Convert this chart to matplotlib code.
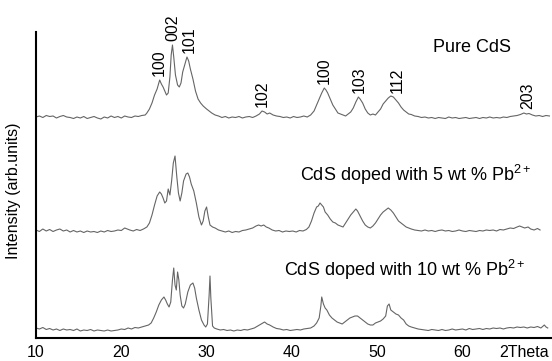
import numpy as np
import matplotlib
matplotlib.use('Agg')
from matplotlib import pyplot as plt

plt.rcParams['font.family'] = ['Liberation Sans', 'DejaVu Sans']
plt.rcParams['mathtext.default'] = 'regular'

# pure CdS (2theta, intensity above its own baseline)
pure_tt = [10.0, 10.4, 10.8, 11.2, 11.6, 12.0, 12.4, 12.8, 13.2, 13.6, 14.0, 14.4, 14.8, 15.2, 15.6, 16.0, 16.4, 16.8,
           17.2, 17.6, 18.0, 18.4, 18.8, 19.2, 19.6, 20.0, 20.4, 20.8, 21.2, 21.6, 22.0, 22.4, 22.8, 23.0, 23.3, 23.6,
           23.9, 24.2, 24.5, 24.7, 24.9, 25.1, 25.3, 25.5, 25.7, 25.85, 26.0, 26.15, 26.35, 26.6, 26.8, 27.0, 27.2,
           27.5, 27.7, 27.9, 28.1, 28.4, 28.7, 29.0, 29.3, 29.6, 30.0, 30.3, 30.6, 31.0, 31.4, 31.8, 32.2, 32.6, 33.0,
           33.4, 33.8, 34.2, 34.6, 35.0, 35.4, 35.8, 36.2, 36.5, 36.8, 37.1, 37.4, 37.8, 38.2, 38.6, 39.0, 39.4, 39.8,
           40.2, 40.6, 41.0, 41.4, 41.8, 42.2, 42.6, 42.9, 43.2, 43.5, 43.8, 44.0, 44.2, 44.5, 44.8, 45.1, 45.4, 45.7,
           46.0, 46.3, 46.6, 46.9, 47.2, 47.5, 47.8, 48.0, 48.3, 48.6, 48.9, 49.2, 49.5, 49.8, 50.1, 50.4, 50.7, 51.0,
           51.3, 51.6, 51.9, 52.2, 52.5, 52.8, 53.1, 53.4, 53.7, 54.0, 54.4, 54.8, 55.2, 55.6, 56.0, 56.4, 56.8, 57.2,
           57.6, 58.0, 58.4, 58.8, 59.2, 59.6, 60.0, 60.4, 60.8, 61.2, 61.6, 62.0, 62.4, 62.8, 63.2, 63.6, 64.0, 64.4,
           64.8, 65.2, 65.6, 66.0, 66.4, 66.8, 67.2, 67.5, 67.8, 68.2, 68.6, 69.0, 69.4, 69.8, 70.2]
pure_int = [0, 1, -0.5, 1.5, 0.5, 1, -1, 0.5, 1.5, 0, -0.5, -1.5, 0, -1, 0.5, -1.5, -0.5, 0.5,
            -1, -2, 0, -1, 1, -0.5, 0.5, -1, 1, 0, -0.5, 1, 0.5, 1.5, 2, 4, 8, 14,
            22, 28, 37, 33, 30, 26, 22, 24, 40, 62, 72, 60, 42, 32, 30, 34, 45,
            54, 60, 56, 48, 38, 26, 18, 14, 11, 8, 6, 4, 2, 1, -0.5, 0.5, -1, 0,
            -0.5, 0.5, -1, 0, 0.5, -0.5, 1, 3, 6, 5, 3, 4, 2, 1, 0.5, -0.5, 0, -1,
            0.5, -0.5, 0, 1, 0, 2, 6, 12, 18, 24, 29, 27, 24, 18, 12, 8, 4, 3,
            2, 1, 3, 5, 9, 15, 20, 18, 14, 8, 4, 2, 3, 2, 5, 8, 13, 16,
            19, 21, 20, 17, 14, 10, 7, 5, 3, 2.5, 1, 0.5, -0.5, 0, -1, -0.5, -1.5, -0.5,
            -1, -1.5, 0, -1, -0.5, -1.5, -1, -0.5, -1.5, -1, -0.5, -1.5, -0.5, -1, 0, -1, -0.5, -1,
            0, -0.5, 0.5, 1, 1.5, 2.5, 4, 3, 3.5, 2, 1, 1.5, 0.5, 1.5, 1]

# CdS doped with 5 wt % Pb
pb5_tt = [10.0, 10.4, 10.8, 11.2, 11.6, 12.0, 12.4, 12.8, 13.2, 13.6, 14.0, 14.4, 14.8, 15.2, 15.6, 16.0, 16.4, 16.8,
          17.2, 17.6, 18.0, 18.4, 18.8, 19.2, 19.6, 20.0, 20.4, 20.7, 21.0, 21.4, 21.8, 22.2, 22.6, 23.0, 23.3, 23.6,
          23.9, 24.2, 24.5, 24.7, 24.9, 25.1, 25.3, 25.5, 25.7, 25.9, 26.1, 26.3, 26.5, 26.7, 26.9, 27.1, 27.3, 27.6,
          27.8, 28.0, 28.2, 28.5, 28.8, 29.1, 29.4, 29.6, 29.8, 30.0, 30.2, 30.4, 30.7, 31.0, 31.4, 31.8, 32.2, 32.6,
          33.0, 33.4, 33.8, 34.2, 34.6, 35.0, 35.4, 35.8, 36.1, 36.4, 36.7, 37.0, 37.3, 37.7, 38.1, 38.5, 38.9, 39.3,
          39.7, 40.1, 40.5, 40.9, 41.3, 41.7, 42.0, 42.3, 42.6, 42.9, 43.1, 43.3, 43.5, 43.7, 43.9, 44.2, 44.5, 44.8,
          45.1, 45.4, 45.7, 46.0, 46.3, 46.6, 46.9, 47.2, 47.5, 47.7, 48.0, 48.3, 48.6, 48.9, 49.2, 49.5, 49.8, 50.1,
          50.4, 50.7, 51.0, 51.3, 51.6, 51.9, 52.2, 52.5, 52.8, 53.1, 53.4, 53.7, 54.0, 54.4, 54.8, 55.2, 55.6, 56.0,
          56.4, 56.8, 57.2, 57.6, 58.0, 58.4, 58.8, 59.2, 59.6, 60.0, 60.4, 60.8, 61.2, 61.6, 62.0, 62.4, 62.8, 63.2,
          63.6, 64.0, 64.4, 64.8, 65.2, 65.6, 66.0, 66.4, 66.7, 67.0, 67.3, 67.7, 68.0, 68.4, 68.8, 69.1]
pb5_int = [1, -0.5, 2, 0, 1.5, -0.5, 1, 2, 0, 1, -1, 0.5, -1, 0, -1.5, 0, -1, -0.5,
           -1.5, 0, -1, 0.5, -0.5, 0, 1, 0.5, 3, 2, 1, 0, 1.5, 0.5, 2, 4, 8, 16,
           26, 35, 39, 37, 33, 28, 30, 42, 36, 50, 68, 75, 55, 38, 30, 38, 50, 57,
           58, 54, 47, 40, 28, 14, 6, 10, 20, 24, 14, 6, 4, 3, 1, 0, -1, 0,
           -1.5, -0.5, -1, 0.5, 1, 2, 3, 5, 6, 5, 6, 4, 3, 1, 0, 0.5, -1, 0,
           -0.5, 0, -1, 0.5, 0, 1.5, 4, 10, 18, 24, 25, 28, 26, 24, 19, 16, 12, 9,
           8, 6, 5, 4, 8, 12, 16, 19, 22, 20, 15, 10, 6, 4, 3, 5, 8, 12,
           16, 19, 21, 23, 21, 18, 14, 10, 8, 6, 4, 3, 2, 1, 0.5, 0, 1, 0,
           0.5, -0.5, 0.5, 1, 0, 0.5, -0.5, 0, 1, 0, -0.5, 0.5, 0, -0.5, 0.5, 0, 1, 0.5,
           1, 0, 1.5, 1, 2, 3, 2.5, 4, 5, 4, 3, 4, 2, 1, 2.5, 1]

# CdS doped with 10 wt % Pb
pb10_tt = [10.0, 10.4, 10.8, 11.2, 11.6, 12.0, 12.4, 12.8, 13.2, 13.6, 14.0, 14.4, 14.8, 15.2, 15.6, 16.0, 16.4, 16.8,
           17.2, 17.6, 18.0, 18.4, 18.8, 19.2, 19.6, 20.0, 20.4, 20.8, 21.2, 21.6, 22.0, 22.4, 22.8, 23.2, 23.5, 23.8,
           24.1, 24.4, 24.7, 25.0, 25.2, 25.4, 25.6, 25.8, 26.0, 26.15, 26.3, 26.45, 26.6, 26.75, 26.9, 27.1, 27.3,
           27.5, 27.8, 28.1, 28.4, 28.6, 28.8, 29.1, 29.4, 29.7, 29.9, 30.1, 30.3, 30.4, 30.5, 30.7, 30.9, 31.2, 31.6,
           32.0, 32.4, 32.8, 33.2, 33.6, 34.0, 34.4, 34.8, 35.2, 35.6, 36.0, 36.4, 36.8, 37.1, 37.4, 37.8, 38.2, 38.6,
           39.0, 39.4, 39.8, 40.2, 40.6, 41.0, 41.4, 41.8, 42.2, 42.6, 42.9, 43.2, 43.4, 43.5, 43.7, 43.9, 44.1, 44.4,
           44.7, 45.0, 45.3, 45.6, 45.9, 46.2, 46.5, 46.8, 47.1, 47.4, 47.7, 48.0, 48.3, 48.6, 48.9, 49.2, 49.5, 49.8,
           50.1, 50.4, 50.7, 51.0, 51.2, 51.4, 51.6, 51.9, 52.2, 52.5, 52.8, 53.1, 53.4, 53.7, 54.0, 54.4, 54.8, 55.2,
           55.6, 56.0, 56.4, 56.8, 57.2, 57.6, 58.0, 58.4, 58.8, 59.2, 59.6, 60.0, 60.4, 60.8, 61.2, 61.6, 62.0, 62.4,
           62.8, 63.2, 63.6, 64.0, 64.4, 64.8, 65.2, 65.6, 66.0, 66.4, 66.8, 67.2, 67.6, 68.0, 68.4, 68.8, 69.2, 69.6,
           69.8, 70.0]
pb10_int = [2, 1, 2.5, 0.5, 1.5, 0, 1, -0.5, 1, 0, 0.5, -0.5, 1, -1, 0, -0.5, 0.5, -1,
            0, -0.5, -1, 0, -1, -0.5, 0, 1, 0.5, 2, 1, 2.5, 2, 3, 4, 5, 7, 12,
            18, 25, 30, 33, 30, 26, 23, 28, 50, 62, 45, 40, 58, 50, 35, 24, 22,
            26, 38, 45, 47, 42, 32, 20, 10, 5, 3, 6, 35, 54, 32, 4, 2, 1, 0,
            0.5, -0.5, 0, -1, 0, -0.5, 0.5, 0, 1, 2, 4, 6, 8, 6, 5, 3, 1.5, 1,
            0, 0.5, -0.5, 0, 0.5, 0, 1, 1.5, 2, 4, 7, 12, 24, 33, 26, 22, 20, 15,
            12, 10, 8, 7, 6, 8, 10, 12, 13, 14, 14, 12, 10, 8, 6, 5, 5, 7,
            8, 9, 11, 14, 24, 26, 20, 18, 16, 15, 12, 10, 6, 4, 3, 2, 1, 0.5,
            0, -0.5, 0.5, 0, -0.5, 0.5, -0.5, 0, 1, 0, 0.5, 1, 0, 1.5, 0.5, 1, 1.5, 0.5,
            1.5, 1, 2, 1.5, 2, 1, 2, 2.5, 2, 3, 2.5, 3, 2, 3, 2.5, 3.5, 2, 5,
            3, 2]

offsets = [221, 107, 8]
sample_names = ['Pure CdS', 'CdS doped with 5 wt % Pb$^{2+}$', 'CdS doped with 10 wt % Pb$^{2+}$']

# miller indices marked on the pure CdS pattern
hkl_labels = ['100', '002', '101', '102', '100', '103', '112', '203']
hkl_pos = [24.5, 26.05, 28.0, 36.5, 43.8, 47.85, 52.3, 67.6]

xtick_vals = [10, 20, 30, 40, 50, 60]

fig = plt.figure(figsize=(5.52, 3.61), dpi=100)
ax = fig.add_axes([36 / 552, 23 / 361, 516 / 552, 306 / 361])

series = [(pure_tt, pure_int), (pb5_tt, pb5_int), (pb10_tt, pb10_int)]
for (tt, inten), off in zip(series, offsets):
    ax.plot(tt, np.array(inten) + off, color='#656565', lw=0.8)

# peak labels sit just above the pure CdS trace
tt0 = np.array(pure_tt)
in0 = np.array(pure_int)
for lab, pos in zip(hkl_labels, hkl_pos):
    near = np.abs(tt0 - pos) < 0.45
    ytop = in0[near].max() + offsets[0] + 4
    ax.text(pos, ytop, lab, rotation=90, ha='center', va='bottom', fontsize=11.5)

ax.text(61.1, 291, sample_names[0], ha='center', va='center', fontsize=13)
ax.text(40.95, 163, sample_names[1], ha='left', va='center', fontsize=13)
ax.text(39.1, 68, sample_names[2], ha='left', va='center', fontsize=13)

ax.set_xlim(10, 70.5)
ax.set_ylim(0, 306)
ax.set_xticks(xtick_vals + [67.2])
ax.set_xticklabels([str(v) for v in xtick_vals] + ['2Theta'], fontsize=11.5)
ax.tick_params(axis='x', length=0, pad=5)
ax.set_yticks([])
ax.set_ylabel('Intensity (arb.units)', fontsize=11.5)
ax.yaxis.set_label_coords(-0.03, 0.48)

for side in ['top', 'right']:
    ax.spines[side].set_visible(False)
for side in ['left', 'bottom']:
    ax.spines[side].set_linewidth(1.5)

plt.savefig('out.png', dpi=100)
